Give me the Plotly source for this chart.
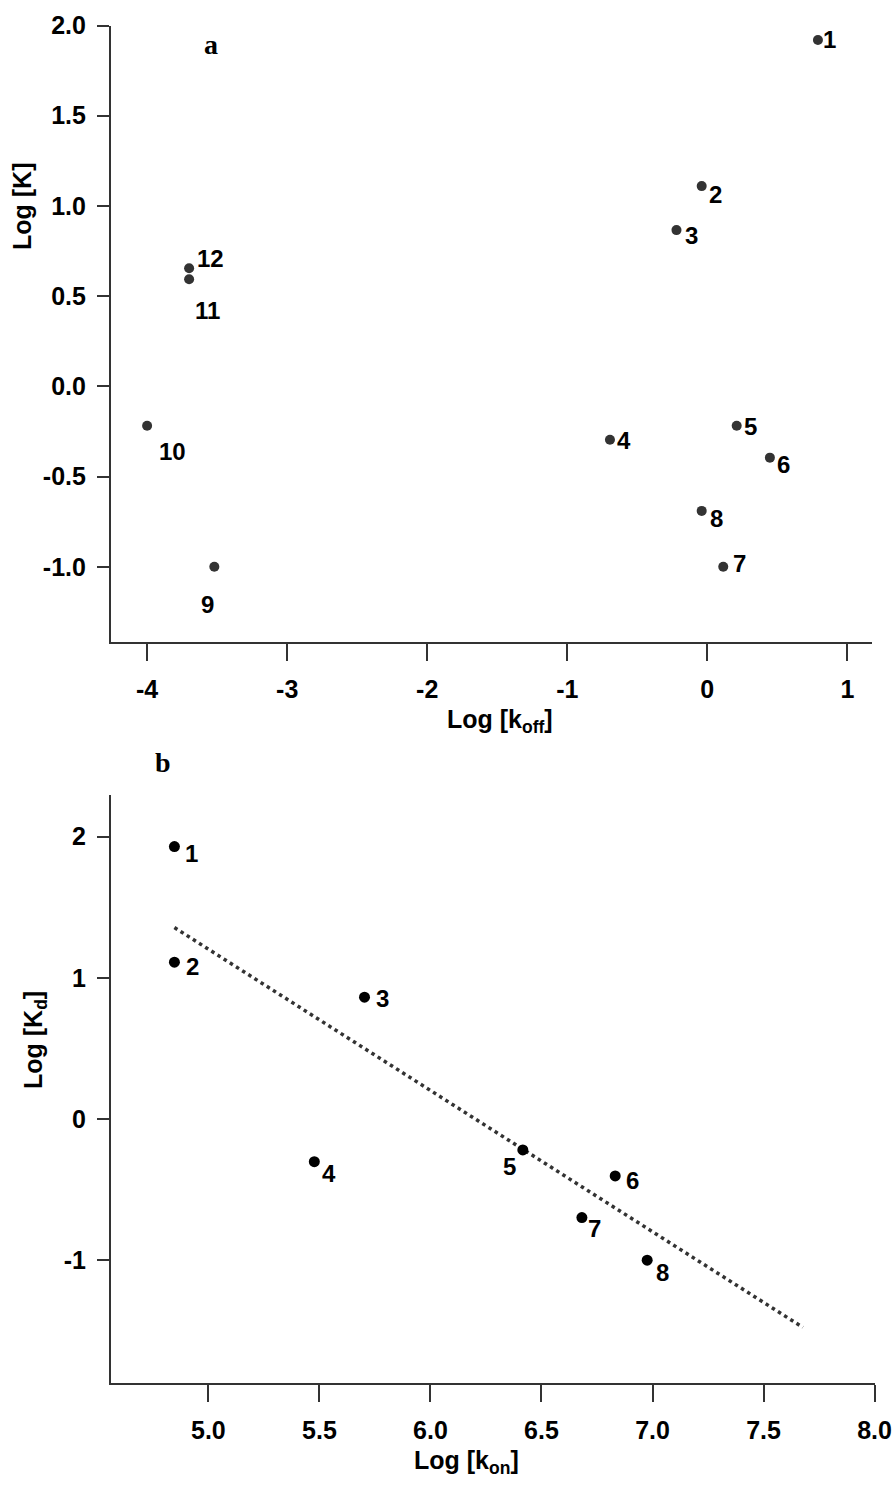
import plotly.graph_objects as go

# ---------------- data ----------------
# Panel a : Log[K] vs Log[k_off]
a_ids = ["1", "2", "3", "4", "5", "6", "7", "8", "9", "10", "11", "12"]
a_log_koff = [0.79, -0.04, -0.22, -0.695, 0.21, 0.447, 0.114, -0.04, -3.52, -4.0, -3.70, -3.70]
a_log_K = [1.92, 1.11, 0.866, -0.296, -0.218, -0.395, -1.0, -0.69, -1.0, -0.218, 0.594, 0.655]

# Panel b : Log[Kd] vs Log[k_on]
b_ids = ["1", "2", "3", "4", "5", "6", "7", "8"]
b_log_kon = [4.847, 4.847, 5.703, 5.477, 6.416, 6.832, 6.682, 6.976]
b_log_Kd = [1.93, 1.111, 0.863, -0.302, -0.219, -0.403, -0.698, -1.0]

# regression line (end points)
fit_x = [4.847, 7.677]
fit_y = [1.356, -1.476]

a_xticks = [-4, -3, -2, -1, 0, 1]
a_yticks = [2.0, 1.5, 1.0, 0.5, 0.0, -0.5, -1.0]
a_yticklabels = ["2.0", "1.5", "1.0", "0.5", "0.0", "-0.5", "-1.0"]
b_xticks = [5.0, 5.5, 6.0, 6.5, 7.0, 7.5, 8.0]
b_xticklabels = ["5.0", "5.5", "6.0", "6.5", "7.0", "7.5", "8.0"]
b_yticks = [2, 1, 0, -1]

# ---------------- style ----------------
W, H = 895, 1485
FONT = "Liberation Sans, Arial, sans-serif"
SERIF = "Liberation Serif, Times New Roman, serif"
AXC = "#333333"

# label offsets in pixels (dx right, dy down)
a_off = {"1": (12, 0), "2": (14, 8), "3": (15, 5), "4": (14, 1), "5": (14, 1),
         "6": (14, 7), "7": (16, -3), "8": (15, 8), "9": (-7, 38), "10": (25, 26),
         "11": (18, 31), "12": (21, -10)}
b_off = {"1": (17, 7), "2": (18, 4), "3": (18, 1), "4": (15, 12), "5": (-13, 17),
         "6": (17, 5), "7": (13, 11), "8": (15, 12)}


def px(x):
    return x / W


def py(y):
    return 1 - y / H


fig = go.Figure()

fig.add_trace(go.Scatter(x=a_log_koff, y=a_log_K, mode="markers",
                         marker=dict(size=10, color="#333333"),
                         xaxis="x", yaxis="y", showlegend=False, hoverinfo="skip"))

fig.add_trace(go.Scatter(x=fit_x, y=fit_y, mode="lines",
                         line=dict(color="#333333", width=3.5, dash="3.5px,3.8px"),
                         xaxis="x2", yaxis="y2", showlegend=False, hoverinfo="skip"))

fig.add_trace(go.Scatter(x=b_log_kon, y=b_log_Kd, mode="markers",
                         marker=dict(size=11, color="black"),
                         xaxis="x2", yaxis="y2", showlegend=False, hoverinfo="skip"))

annotations = []
lab_font = dict(family=FONT, size=24, color="black", weight="bold")
for i, lab in enumerate(a_ids):
    dx, dy = a_off[lab]
    annotations.append(dict(x=a_log_koff[i], y=a_log_K[i], xref="x", yref="y", text=lab,
                            showarrow=False, xshift=dx, yshift=-dy, font=lab_font,
                            xanchor="center", yanchor="middle"))
for i, lab in enumerate(b_ids):
    dx, dy = b_off[lab]
    annotations.append(dict(x=b_log_kon[i], y=b_log_Kd[i], xref="x2", yref="y2", text=lab,
                            showarrow=False, xshift=dx, yshift=-dy, font=lab_font,
                            xanchor="center", yanchor="middle"))

title_font = dict(family=FONT, size=25, color="black", weight="bold")
annotations += [
    dict(x=px(500), y=py(721), xref="paper", yref="paper", text="Log [k<sub>off</sub>]",
         showarrow=False, font=title_font, xanchor="center", yanchor="middle"),
    dict(x=px(22), y=py(207), xref="paper", yref="paper", text="Log [K]", textangle=-90,
         showarrow=False, font=title_font, xanchor="center", yanchor="middle"),
    dict(x=px(467), y=py(1462), xref="paper", yref="paper", text="Log [k<sub>on</sub>]",
         showarrow=False, font=title_font, xanchor="center", yanchor="middle"),
    dict(x=px(35), y=py(1040), xref="paper", yref="paper", text="Log [K<sub>d</sub>]", textangle=-90,
         showarrow=False, font=title_font, xanchor="center", yanchor="middle"),
    dict(x=px(211), y=py(44), xref="paper", yref="paper", text="<b>a</b>",
         showarrow=False, font=dict(family=SERIF, size=28, color="black"),
         xanchor="center", yanchor="middle"),
    dict(x=px(163), y=py(762), xref="paper", yref="paper", text="<b>b</b>",
         showarrow=False, font=dict(family=SERIF, size=28, color="black"),
         xanchor="center", yanchor="middle"),
]

tick_font = dict(family=FONT, size=25, color="black", weight="bold")

common_x = dict(showline=True, linecolor=AXC, linewidth=2, ticks="outside", ticklen=17,
                tickwidth=1.5, tickcolor=AXC, showgrid=False, zeroline=False,
                tickfont=tick_font, ticklabelstandoff=7, automargin=False,
                ticklabeloverflow="allow")
common_y = dict(showline=True, linecolor=AXC, linewidth=1.5, ticks="outside", ticklen=12,
                tickwidth=1.5, tickcolor=AXC, showgrid=False, zeroline=False,
                tickfont=tick_font, ticklabelstandoff=6, automargin=False,
                ticklabeloverflow="allow")

fig.update_layout(
    width=W, height=H,
    margin=dict(l=0, r=0, t=0, b=0, autoexpand=False),
    paper_bgcolor="white", plot_bgcolor="white",
    xaxis=dict(domain=[px(110.7), px(871.7)], range=[-4.26, 1.174], anchor="y",
               tickvals=a_xticks, ticktext=[str(v) for v in a_xticks], **common_x),
    yaxis=dict(domain=[py(641.7), py(25.5)], range=[-1.415, 2.0], anchor="x",
               tickvals=a_yticks, ticktext=a_yticklabels, **common_y),
    xaxis2=dict(domain=[px(110.7), px(875)], range=[4.56, 8.002], anchor="y2",
                tickvals=b_xticks, ticktext=b_xticklabels, **common_x),
    yaxis2=dict(domain=[py(1383), py(795)], range=[-1.87, 2.295], anchor="x2",
                tickvals=b_yticks, ticktext=[str(v) for v in b_yticks], **common_y),
    annotations=annotations,
)

fig.write_html("out.html")
